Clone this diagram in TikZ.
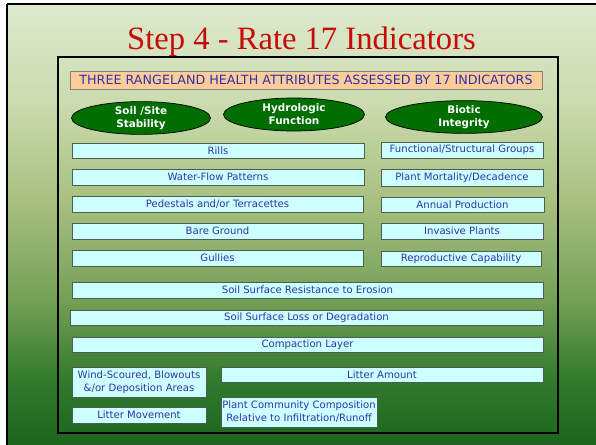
\documentclass[tikz,border=0pt]{standalone}
\usepackage{fontspec}
\setmainfont{Liberation Serif}
\newfontfamily\boxfont{DejaVu Sans}
\usetikzlibrary{shapes.geometric}

% slide palette
\definecolor{bgA}{RGB}{28,100,28}
\definecolor{bgB}{RGB}{50,122,45}
\definecolor{bgC}{RGB}{115,160,85}
\definecolor{bgD}{RGB}{168,192,128}
\definecolor{bgE}{RGB}{203,220,175}
\definecolor{bgF}{RGB}{222,234,206}
\definecolor{titlered}{RGB}{200,10,10}
\definecolor{inkblue}{RGB}{50,50,165}
\definecolor{boxfill}{RGB}{204,255,255}
\definecolor{boxline}{RGB}{80,92,80}
\definecolor{headfill}{RGB}{252,204,155}
\definecolor{attrgreen}{RGB}{0,110,0}

% vertical background gradient (path maps to 25bp..75bp)
\pgfdeclareverticalshading{slidebg}{100bp}{
  color(0bp)=(bgA); color(25bp)=(bgA); color(32.5bp)=(bgB);
  color(41.5bp)=(bgC); color(52.8bp)=(bgD); color(64.1bp)=(bgE);
  color(75bp)=(bgF); color(100bp)=(bgF)}

\tikzset{
  softshadow/.style={preaction={fill=black!55, opacity=0.6,
    transform canvas={shift={(0.9pt,-0.9pt)}}}},
  indbox/.style={softshadow, draw=boxline, line width=0.9pt, fill=boxfill, text=inkblue,
    font=\boxfont\fontsize{10.1}{13}\selectfont, inner sep=0pt, align=center},
  headbox/.style={draw=gray, line width=0.9pt, fill=headfill, text=inkblue,
    font=\boxfont\fontsize{12.7}{14}\selectfont, inner sep=0pt},
  attr/.style={ellipse, draw=black, line width=0.7pt, fill=attrgreen, text=white,
    font=\boxfont\bfseries\fontsize{10.4}{13}\selectfont, inner sep=0pt, align=center},
  frame/.style={draw=black, line width=2pt}
}

\begin{document}
\begin{tikzpicture}[x=1pt, y=-1pt]
\useasboundingbox (0,0) rectangle (596,444);
\fill[white] (0,0) rectangle (596,444);
\begin{scope}
  \clip (0,0) rectangle (596,444);
  \shade[shading=slidebg] (7,4) rectangle (600,446);
  \draw[frame] (7,4) -- (600,4);
  \draw[frame] (7,4) -- (7,446);
\end{scope}

% title
\node[text=titlered, font=\fontsize{32.6}{36}\selectfont, anchor=base, inner sep=0pt]
  (title) at (301.5,49) {Step 4 - Rate 17 Indicators};

% inner frame
\draw[frame] (58,57) rectangle (558,433);

% header
\node[headbox, minimum width=472pt, minimum height=18pt] (head) at (306,80)
  {THREE RANGELAND HEALTH ATTRIBUTES ASSESSED BY 17 INDICATORS};

% attributes
\node[attr, minimum width=139pt, minimum height=31pt] (soil) at (141,118) {Soil /Site\\Stability};
\node[attr, minimum width=141pt, minimum height=33pt] (hydro) at (294,114.5) {Hydrologic\\Function};
\node[attr, minimum width=157pt, minimum height=32pt] (biotic) at (464,117) {Biotic\\Integrity};

% left column
\node[indbox, minimum width=292pt, minimum height=15pt] (rills) at (218,150.5) {Rills};
\node[indbox, minimum width=292pt, minimum height=16pt] (water) at (218,177) {Water-Flow Patterns};
\node[indbox, minimum width=291pt, minimum height=16pt] (ped) at (217.5,204) {Pedestals and/or Terracettes};
\node[indbox, minimum width=291pt, minimum height=16pt] (bare) at (217.5,231) {Bare Ground};
\node[indbox, minimum width=291pt, minimum height=16pt] (gully) at (217.5,258) {Gullies};

% right column
\node[indbox, minimum width=162pt, minimum height=16pt] (func) at (462,150) {Functional/Structural Groups};
\node[indbox, minimum width=162pt, minimum height=17pt] (mort) at (462,177.5) {Plant Mortality/Decadence};
\node[indbox, minimum width=163pt, minimum height=15pt] (annual) at (462.5,204.5) {Annual Production};
\node[indbox, minimum width=162pt, minimum height=16pt] (invasive) at (462,231) {Invasive Plants};
\node[indbox, minimum width=160pt, minimum height=15pt] (repro) at (461,258.5) {Reproductive Capability};

% full-width rows
\node[indbox, minimum width=471pt, minimum height=16pt] (resist) at (307.5,290) {Soil Surface Resistance to Erosion};
\node[indbox, minimum width=473pt, minimum height=15pt] (loss) at (306.5,317.5) {Soil Surface Loss or Degradation};
\node[indbox, minimum width=471pt, minimum height=15pt] (compact) at (307.5,344.5) {Compaction Layer};

% bottom group
\node[indbox, minimum width=134pt, minimum height=30pt] (wind) at (139,382) {Wind-Scoured, Blowouts\\\&/or Deposition Areas};
\node[indbox, minimum width=322pt, minimum height=15pt] (litamt) at (382,374.5) {Litter Amount};
\node[indbox, minimum width=134pt, minimum height=16pt] (litmov) at (139,415) {Litter Movement};
\node[indbox, minimum width=156pt, minimum height=30pt] (plantcomm) at (299,412) {Plant Community Composition\\Relative to Infiltration/Runoff};
\end{tikzpicture}
\end{document}
